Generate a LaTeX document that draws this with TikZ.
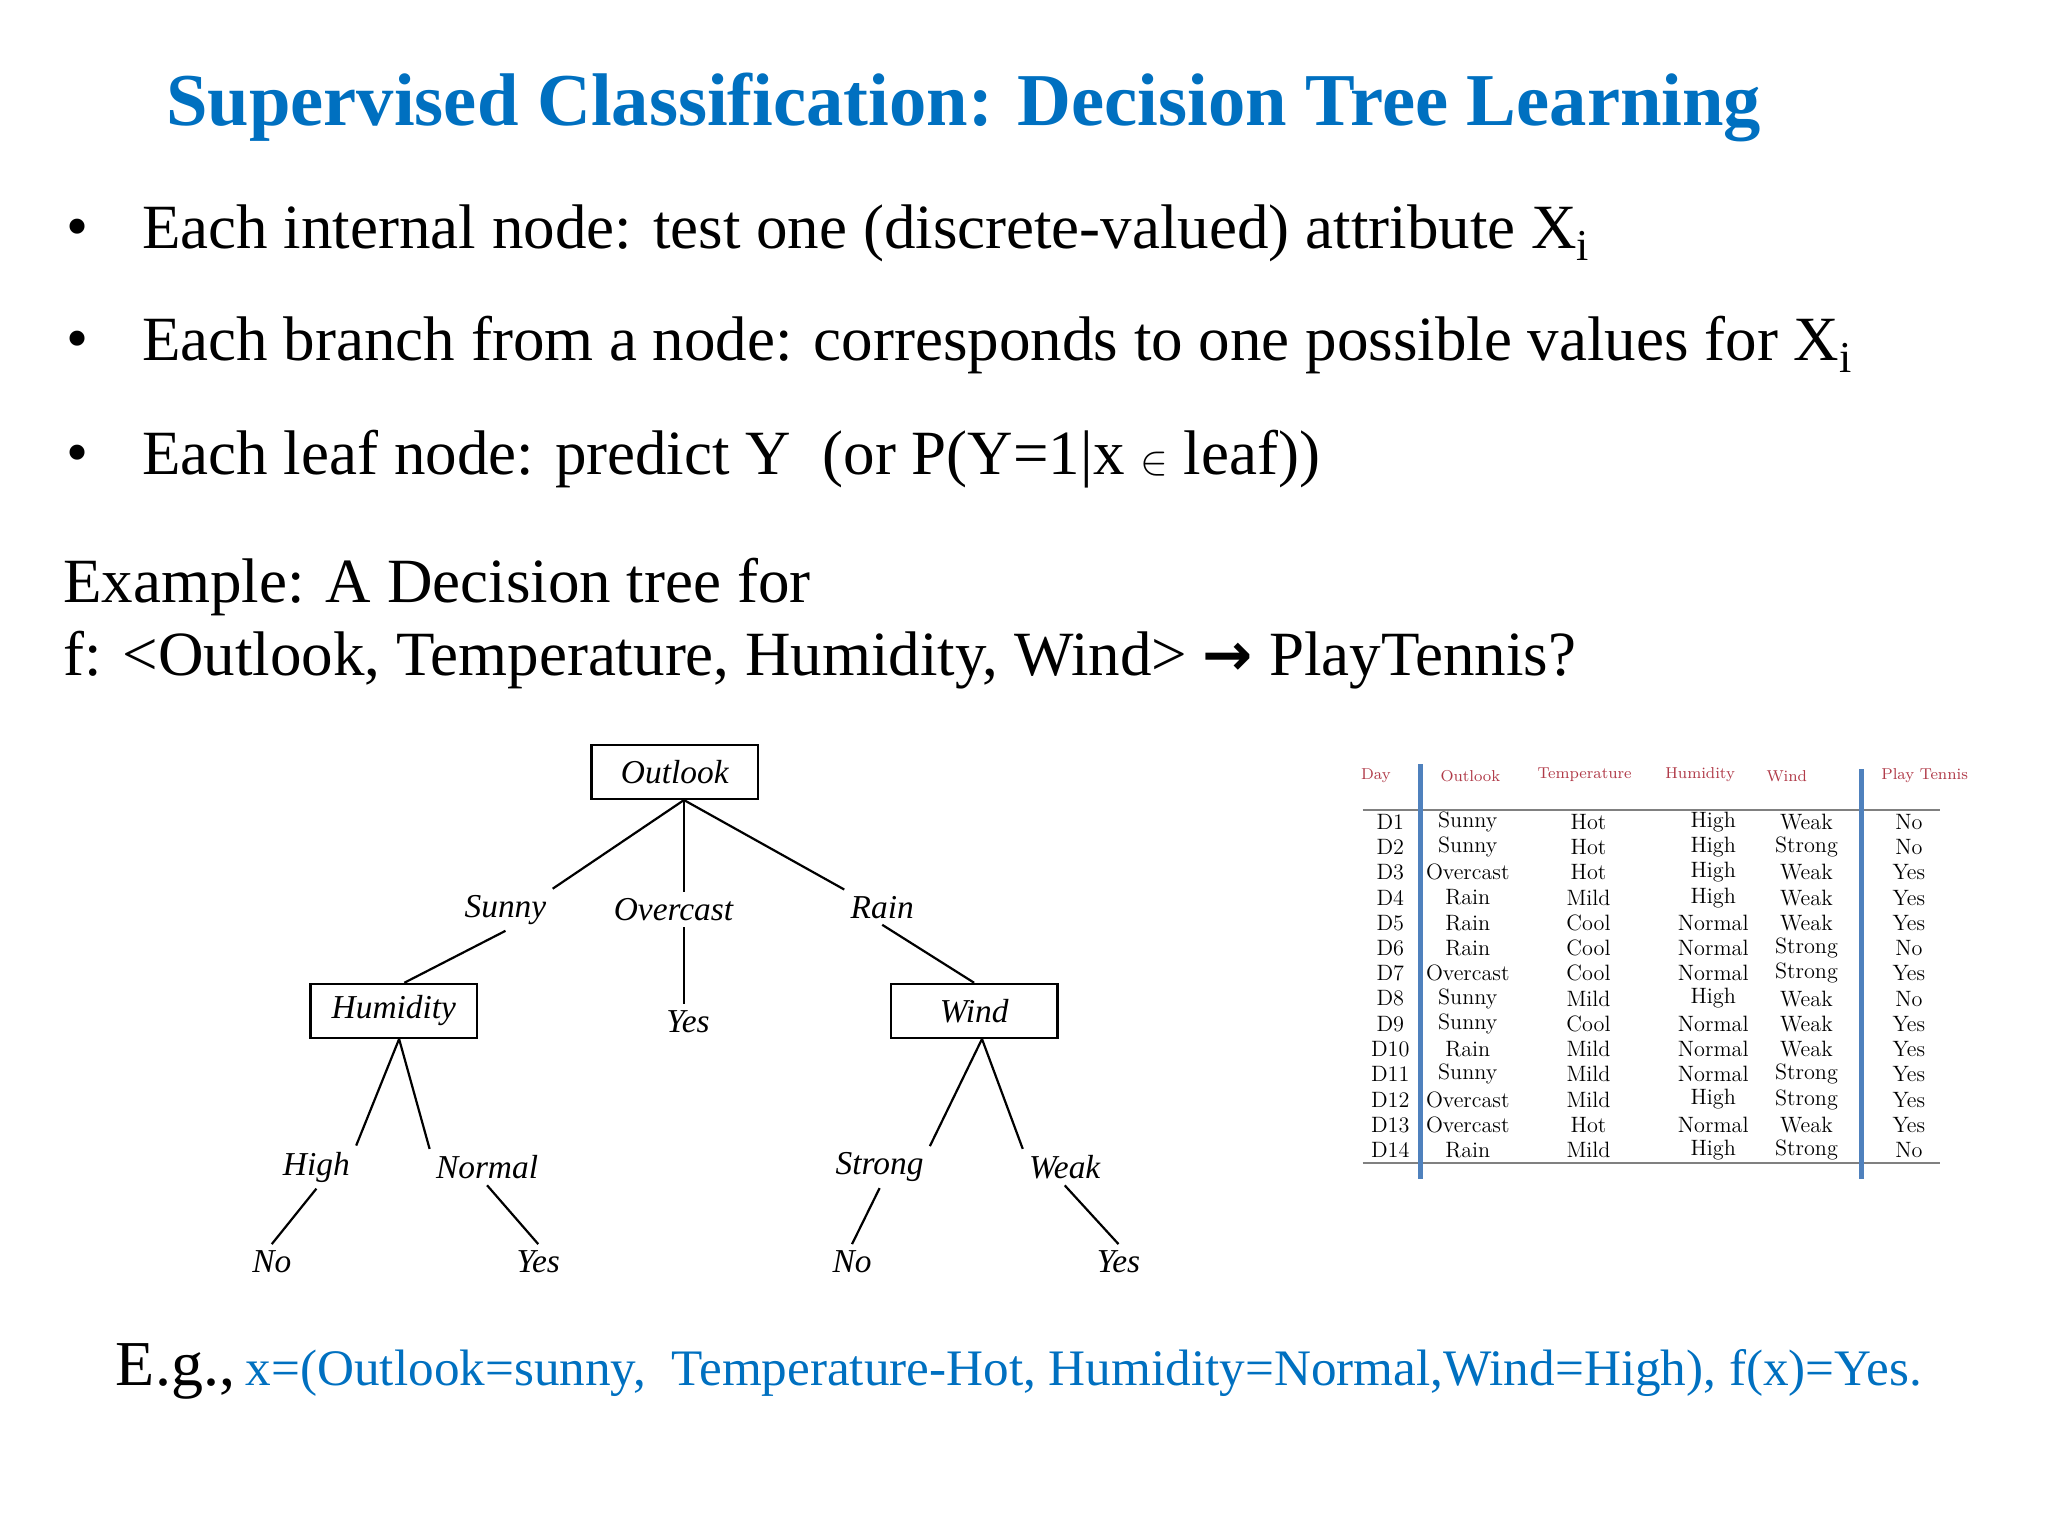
\documentclass[tikz,border=0pt]{standalone}
\usepackage{fontspec}
\setmainfont{Liberation Serif}
\newfontfamily\lmr{Latin Modern Roman}
\newfontfamily\dejavu{DejaVu Sans}
\definecolor{ttl}{HTML}{0070C0}
\definecolor{hdr}{HTML}{B03A48}
\definecolor{vbar}{HTML}{4F81BD}
\begin{document}
\begin{tikzpicture}[x=0.6564pt,y=-0.6564pt,
  box/.style={draw,line width=1.2pt,minimum width=127*0.6564pt,minimum height=41*0.6564pt,inner sep=0pt,font=\fontsize{16.7}{20}\selectfont\itshape},
  lab/.style={inner sep=3pt,font=\fontsize{16.7}{20}\selectfont\itshape},
  edge/.style={line width=1.1pt},
  bul/.style={anchor=west,inner sep=0pt,font=\fontsize{31.5}{35}\selectfont},
  cell/.style={inner sep=0pt,font=\lmr\fontsize{11.1}{12}\selectfont},
  head/.style={inner sep=0pt,text=hdr,font=\lmr\fontsize{7.9}{9}\selectfont}]
\useasboundingbox (0,0) rectangle (1560,1170);
% title
\node[text=ttl,font=\fontsize{37.3}{42}\selectfont\bfseries,inner sep=0pt] (title) at (734,82) {Supervised Classification: Decision Tree Learning};
% bullets
\node[bul] (b1d) at (50,178) {•};
\node[bul] (b1) at (108,178) {Each internal node: test one (discrete-valued) attribute X\textsubscript{i}};
\node[bul] (b2d) at (50,263) {•};
\node[bul] (b2) at (108,263) {Each branch from a node: corresponds to one possible values for X\textsubscript{i}};
\node[bul] (b3d) at (50,350) {•};
\node[bul] (b3) at (108,350) {Each leaf node: predict Y\ \ (or P(Y=1|x {\fontsize{22}{24}\selectfont$\in$} leaf))};
\node[bul] (ex1) at (48,447) {Example: A Decision tree for};
\node[bul] (ex2) at (48,503) {f: <Outlook, Temperature, Humidity, Wind> {\dejavu\bfseries\fontsize{30}{32}\selectfont →} PlayTennis?};
% tree
\node[box] (outlook) at (514,588) {Outlook};
\node[lab] (sunny) at (385,693) {Sunny};
\node[lab] (overcast) at (513,693) {Overcast};
\node[lab] (rain) at (672,691) {Rain};
\node[box] (humidity) at (300,770) {Humidity};
\node[lab] (yes0) at (524,778) {Yes};
\node[box] (wind) at (742,770) {Wind};
\node[lab] (high) at (241,889) {High};
\node[lab] (normal) at (371,889) {Normal};
\node[lab] (strong) at (670,889) {Strong};
\node[lab] (weak) at (811,889) {Weak};
\node[lab] (no1) at (207,961) {No};
\node[lab] (yes1) at (410,961) {Yes};
\node[lab] (no2) at (649,961) {No};
\node[lab] (yes2) at (852,961) {Yes};
\coordinate (ob) at ([xshift=7*0.6564pt]outlook.south);
\draw[edge] (ob) -- (sunny.north east);
\draw[edge] (ob) -- (overcast.north-|ob);
\draw[edge] (ob) -- (rain.north west);
\draw[edge] (sunny.south) -- ([xshift=8*0.6564pt]humidity.north);
\draw[edge] (overcast.south-|ob) -- (yes0.north-|ob);
\draw[edge] (rain.south) -- (wind.north);
\draw[edge] ([xshift=4*0.6564pt]humidity.south) -- (high.north east);
\draw[edge] ([xshift=4*0.6564pt]humidity.south) -- (normal.north west);
\draw[edge] (high.south) -- (no1.north);
\draw[edge] (normal.south) -- (yes1.north);
\draw[edge] ([xshift=6*0.6564pt]wind.south) -- (strong.north east);
\draw[edge] ([xshift=6*0.6564pt]wind.south) -- (weak.north west);
\draw[edge] (strong.south) -- (no2.north);
\draw[edge] (weak.south) -- (yes2.north);
% table
\node[head] (hday) at (1048,591) {Day};
\node[head] (hout) at (1120,591) {Outlook};
\node[head] (htmp) at (1207,590) {Temperature};
\node[head] (hhum) at (1295,590) {Humidity};
\node[head] (hwin) at (1361,591) {Wind};
\node[head] (hpla) at (1466,591) {Play Tennis};
\coordinate (t1) at (1038,617); \coordinate (t2) at (1478,617);
\coordinate (u1) at (1038,886); \coordinate (u2) at (1478,886);
\draw[gray,line width=0.8pt] (t1) -- (t2);
\draw[gray,line width=0.8pt] (u1) -- (u2);
\foreach \d/\o/\t/\h/\w/\p [count=\i from 0] in {
 D1/Sunny/Hot/High/Weak/No, D2/Sunny/Hot/High/Strong/No, D3/Overcast/Hot/High/Weak/Yes,
 D4/Rain/Mild/High/Weak/Yes, D5/Rain/Cool/Normal/Weak/Yes, D6/Rain/Cool/Normal/Strong/No,
 D7/Overcast/Cool/Normal/Strong/Yes, D8/Sunny/Mild/High/Weak/No, D9/Sunny/Cool/Normal/Weak/Yes,
 D10/Rain/Mild/Normal/Weak/Yes, D11/Sunny/Mild/Normal/Strong/Yes, D12/Overcast/Mild/High/Strong/Yes,
 D13/Overcast/Hot/Normal/Weak/Yes, D14/Rain/Mild/High/Strong/No}{
  \pgfmathsetmacro\yy{626+\i*19.23}
  \node[cell] (cd\i) at (1059,\yy) {\d};
  \node[cell] (co\i) at (1118,\yy) {\o};
  \node[cell] (ct\i) at (1210,\yy) {\t};
  \node[cell] (ch\i) at (1305,\yy) {\h};
  \node[cell] (cw\i) at (1376,\yy) {\w};
  \node[cell] (cp\i) at (1454,\yy) {\p};
}
\coordinate (v1a) at (1082,582); \coordinate (v1b) at (1082,898);
\coordinate (v2a) at (1418,586); \coordinate (v2b) at (1418,898);
\draw[vbar,line width=2.6pt] (v1a) -- (v1b);
\draw[vbar,line width=2.6pt] (v2a) -- (v2b);
% example line
\node[anchor=base west,inner sep=0pt,font=\fontsize{32}{35}\selectfont] (eg) at (88,1055) {E.g.,};
\node[anchor=base west,inner sep=0pt,text=ttl,font=\fontsize{25.6}{29}\selectfont] (egx) at (187,1055) {x=(Outlook=sunny,\ \ Temperature-Hot, Humidity=Normal,Wind=High), f(x)=Yes.};
\end{tikzpicture}
\end{document}
